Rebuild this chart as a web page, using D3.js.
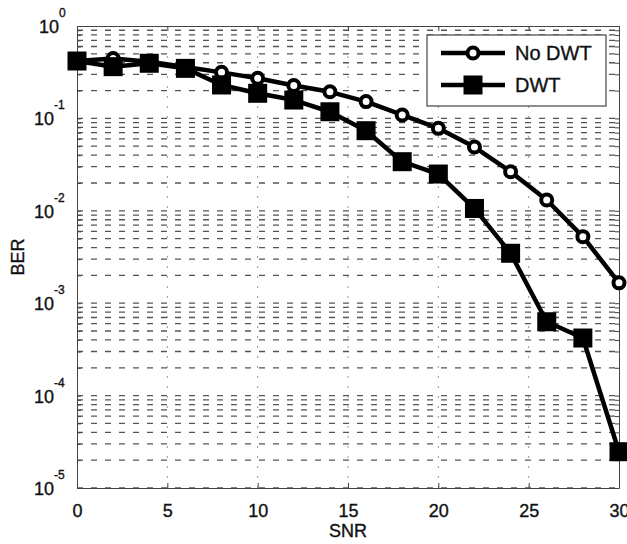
<!DOCTYPE html>
<head>
<meta charset="utf-8">
<script src="https://d3js.org/d3.v7.min.js"></script>
<style>
body { margin: 0; background: #fff; }
text { font-family: "Liberation Sans", Arial, sans-serif; fill: #111; stroke: #111; stroke-width: 0.35px; }
</style>
</head>
<body>
<script>
// data
var snr = [0, 2, 4, 6, 8, 10, 12, 14, 16, 18, 20, 22, 24, 26, 28, 30];
var berNoDwt = [0.418, 0.445, 0.41, 0.36, 0.315, 0.272, 0.227, 0.194, 0.152, 0.109, 0.078, 0.049, 0.0265, 0.0131, 0.00525, 0.00166];
var berDwt = [0.418, 0.363, 0.395, 0.348, 0.23, 0.187, 0.158, 0.118, 0.0736, 0.034, 0.025, 0.0106, 0.00347, 0.00063, 0.00042, 0.0000247];
var xTicks = [0, 5, 10, 15, 20, 25, 30];
var yExps = [0, -1, -2, -3, -4, -5];
var seriesNames = ["No DWT", "DWT"];

var W = 627, H = 544;
var margin = {top: 26, right: 8, bottom: 56, left: 77};

var svg = d3.select("body").append("svg")
    .attr("width", W)
    .attr("height", H);

var x = d3.scaleLinear().domain([0, 30]).range([margin.left, W - margin.right]);
var y = d3.scaleLog().domain([1e-5, 1]).range([H - margin.bottom, margin.top]);

// grid lines: every minor log step
var yGrid = [];
for (var e = -5; e < 0; e++) {
    for (var m = 1; m < 10; m++) yGrid.push(m * Math.pow(10, e));
}
svg.append("g").selectAll("line")
    .data(yGrid)
    .enter().append("line")
    .attr("x1", x(0)).attr("x2", x(30))
    .attr("y1", d => y(d)).attr("y2", d => y(d))
    .attr("stroke", "#555")
    .attr("stroke-width", 1.3)
    .attr("stroke-dasharray", "6,8");

svg.append("g").selectAll("line")
    .data(xTicks.slice(1, -1))
    .enter().append("line")
    .attr("x1", d => x(d)).attr("x2", d => x(d))
    .attr("y1", y(1)).attr("y2", y(1e-5))
    .attr("stroke", "#999")
    .attr("stroke-width", 1)
    .attr("stroke-dasharray", "2,8");

// axes with inward ticks
svg.append("g")
    .attr("transform", `translate(0,${y(1e-5)})`)
    .call(d3.axisBottom(x).tickValues(xTicks).tickSizeInner(-5).tickSizeOuter(0).tickPadding(12))
    .call(g => g.select(".domain").attr("stroke", "#444"))
    .call(g => g.selectAll("line").attr("stroke", "#444"))
    .call(g => g.selectAll("text").style("font-size", "18px").attr("fill", "#111").attr("dy", "0.95em"));

svg.append("g")
    .attr("transform", `translate(0,${y(1)})`)
    .call(d3.axisTop(x).tickValues(xTicks).tickSizeInner(-5).tickSizeOuter(0).tickFormat(""))
    .call(g => g.selectAll("path,line").attr("stroke", "#444"));

svg.append("g")
    .attr("transform", `translate(${x(0)},0)`)
    .call(d3.axisLeft(y).tickValues(yGrid.concat([1])).tickSizeInner(-4).tickSizeOuter(0).tickFormat(""))
    .call(g => g.selectAll("path,line").attr("stroke", "#444"));

svg.append("g")
    .attr("transform", `translate(${x(30)},0)`)
    .call(d3.axisRight(y).tickValues(yGrid.concat([1])).tickSizeInner(-4).tickSizeOuter(0).tickFormat(""))
    .call(g => g.selectAll("path,line").attr("stroke", "#444"));

// y tick labels 10^n
svg.append("g").selectAll("text")
    .data(yExps)
    .enter().append("text")
    .attr("x", d => d < 0 ? 54 : 59)
    .attr("y", d => y(Math.pow(10, d)) + 7)
    .attr("text-anchor", "end")
    .style("font-size", "18px")
    .text("10");
svg.append("g").selectAll("text")
    .data(yExps)
    .enter().append("text")
    .attr("x", d => d < 0 ? 54 : 59)
    .attr("y", d => y(Math.pow(10, d)) - 9)
    .style("font-size", "12px")
    .text(d => d < 0 ? "-" + (-d) : d);

// axis titles
svg.append("text")
    .attr("x", (x(0) + x(30)) / 2)
    .attr("y", 537)
    .attr("text-anchor", "middle")
    .style("font-size", "18px")
    .text("SNR");

svg.append("text")
    .attr("transform", `translate(24,${(y(1) + y(1e-5)) / 2}) rotate(-90)`)
    .attr("text-anchor", "middle")
    .style("font-size", "18px")
    .text("BER");

// series
var line = d3.line().x(d => x(d[0])).y(d => y(d[1]));
var noDwt = snr.map((s, i) => [s, berNoDwt[i]]);
var dwt = snr.map((s, i) => [s, berDwt[i]]);

svg.append("path")
    .datum(noDwt)
    .attr("d", line)
    .attr("fill", "none")
    .attr("stroke", "#000")
    .attr("stroke-width", 4.5)
    .attr("stroke-linejoin", "round");

svg.append("g").selectAll("circle")
    .data(noDwt)
    .enter().append("circle")
    .attr("cx", d => x(d[0]))
    .attr("cy", d => y(d[1]))
    .attr("r", 5.5)
    .attr("fill", "#fff")
    .attr("stroke", "#000")
    .attr("stroke-width", 4);

svg.append("path")
    .datum(dwt)
    .attr("d", line)
    .attr("fill", "none")
    .attr("stroke", "#000")
    .attr("stroke-width", 4.5)
    .attr("stroke-linejoin", "round");

var sq = 19;
svg.append("g").selectAll("rect")
    .data(dwt)
    .enter().append("rect")
    .attr("x", d => x(d[0]) - sq / 2)
    .attr("y", d => y(d[1]) - sq / 2)
    .attr("width", sq)
    .attr("height", sq)
    .attr("fill", "#000");

// legend
var lg = svg.append("g");
lg.append("rect")
    .attr("x", 427).attr("y", 35)
    .attr("width", 179).attr("height", 71)
    .attr("fill", "#fff")
    .attr("stroke", "#444")
    .attr("stroke-width", 1.2);

seriesNames.forEach(function(name, i) {
    var ly = 53 + i * 32;
    lg.append("line")
        .attr("x1", 441).attr("x2", 505)
        .attr("y1", ly).attr("y2", ly)
        .attr("stroke", "#000")
        .attr("stroke-width", 4.5);
    if (i == 0) {
        lg.append("circle")
            .attr("cx", 473).attr("cy", ly).attr("r", 5.5)
            .attr("fill", "#fff").attr("stroke", "#000").attr("stroke-width", 4);
    } else {
        lg.append("rect")
            .attr("x", 473 - sq / 2).attr("y", ly - sq / 2)
            .attr("width", sq).attr("height", sq)
            .attr("fill", "#000");
    }
    lg.append("text")
        .attr("x", 515)
        .attr("y", ly + 7)
        .style("font-size", "20px")
        .text(name);
});
</script>
</body>
</html>
